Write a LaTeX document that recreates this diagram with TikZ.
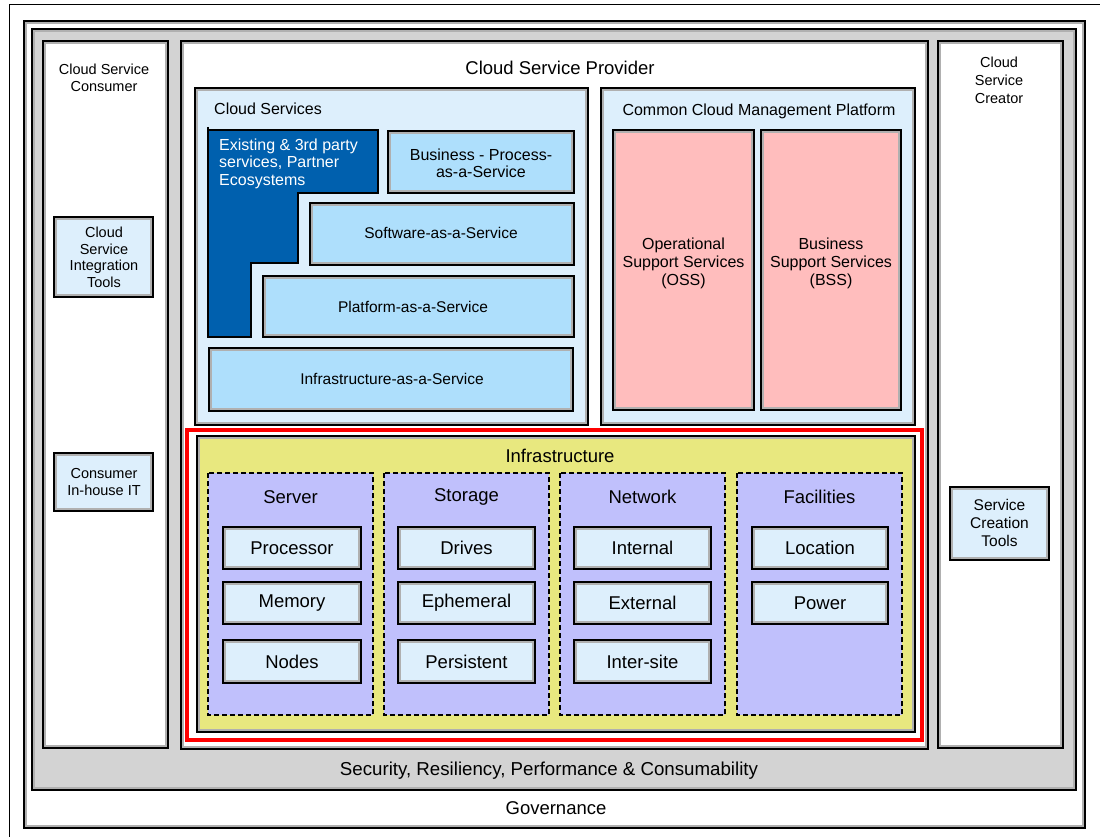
\documentclass[tikz,border=0pt]{standalone}
\usepackage{fontspec}
\setmainfont{Liberation Sans}
\definecolor{secgray}{HTML}{D3D3D3}
\definecolor{innerg}{HTML}{B0B0B0}
\definecolor{paleblue}{HTML}{DDEFFC}
\definecolor{svcblue}{HTML}{AEDFFC}
\definecolor{darkblue}{HTML}{0060AE}
\definecolor{pinkbox}{HTML}{FFBDBD}
\definecolor{yelbox}{HTML}{E8E87F}
\definecolor{lavbox}{HTML}{C0C0FC}
\newcommand{\fbx}[5]{%
  \fill[#1] (#2,#3) rectangle (#4,#5);
  \draw[innerg, line width=1.4pt] (#2+1.9,#3+1.9) rectangle (#4-1.9,#5-1.9);
  \draw[black, line width=1.8pt] (#2,#3) rectangle (#4,#5);}
\tikzset{
  lbl/.style={inner sep=0pt, align=center, text=black},
  fa/.style={font=\fontsize{14.5}{17}\selectfont},
  fb/.style={font=\fontsize{15.5}{18}\selectfont},
  fc/.style={font=\fontsize{16}{17.5}\selectfont},
  fd/.style={font=\fontsize{18.5}{20}\selectfont},
  colbox/.style={fill=lavbox, draw=black, line width=1.1pt, dash pattern=on 5pt off 3pt},
}
\begin{document}
\begin{tikzpicture}[x=1pt,y=-1pt]
\useasboundingbox (0,0) rectangle (1100,837);
% outer frame
\draw[line width=1pt] (9,5) rectangle (1130,860);
% governance and security
\fbx{white}{24}{21}{1085}{828}
\fbx{secgray}{32}{29}{1076}{790}
% three columns
\fbx{white}{43}{41}{168}{748}
\fbx{white}{181}{41}{928}{749}
\fbx{white}{938}{41}{1063}{748}
% consumer tools
\fbx{paleblue}{54}{217}{153}{297}
\fbx{paleblue}{54}{453}{153}{511}
% creator tools
\fbx{paleblue}{950}{487}{1049}{560}
% cloud services
\fbx{paleblue}{195}{88}{588}{425}
\fill[darkblue] (208,130) -- (378,130) -- (378,193) -- (298,193) -- (298,263) -- (251,263) -- (251,337) -- (208,337) -- cycle;
\draw[line width=1.3pt] (208,127) -- (208,337) -- (251,337) -- (251,263) -- (298,263) -- (298,193) -- (378,193) -- (378,130) -- (208,130);
\fbx{svcblue}{388}{131}{574}{193}
\fbx{svcblue}{310}{203}{574}{265}
\fbx{svcblue}{263}{276}{574}{337}
\fbx{svcblue}{209}{348}{573}{411}
% management platform
\fbx{paleblue}{601}{88}{915}{425}
\fbx{pinkbox}{613}{130}{754}{410}
\fbx{pinkbox}{761}{130}{901}{410}
% infrastructure
\draw[red, line width=3.5pt] (187,430) rectangle (922,740);
\fbx{yelbox}{197}{436}{915}{732}
\draw[colbox] (208,473) rectangle (373,715);
\draw[colbox] (384,473) rectangle (549,715);
\draw[colbox] (560,473) rectangle (725,715);
\draw[colbox] (737,473) rectangle (902,715);
\foreach \xa/\xb in {223/361,398/535,574/711}{
  \fbx{paleblue}{\xa}{527}{\xb}{569}
  \fbx{paleblue}{\xa}{582}{\xb}{624}
  \fbx{paleblue}{\xa}{640}{\xb}{683}
}
\fbx{paleblue}{752}{527}{888}{569}
\fbx{paleblue}{752}{582}{888}{624}
% texts
\node[lbl,fa] (tcons) at (104,77.5) {Cloud Service\\Consumer};
\node[lbl,fd] (tprov) at (560,68) {Cloud Service Provider};
\node[lbl,fa,font=\fontsize{14.5}{18}\selectfont] (tcrea) at (999,80) {Cloud\\Service\\Creator};
\node[lbl,fa,font=\fontsize{14.5}{16.5}\selectfont] (tinteg) at (104,257.5) {Cloud\\Service\\Integration\\Tools};
\node[lbl,fa] (tinh) at (104,482) {Consumer\\In-house IT};
\node[lbl,fb] (tsct) at (999.5,523) {Service\\Creation\\Tools};
\node[lbl,fc,anchor=west] (tcs) at (214,109) {Cloud Services};
\node[lbl,fc,anchor=west,align=left,text=white] (texist) at (219,163.5) {Existing \& 3rd party\\services, Partner\\Ecosystems};
\node[lbl,fc] (tbpaas) at (481,163.5) {Business - Process-\\as-a-Service};
\node[lbl,fb] (tsaas) at (441,233) {Software-as-a-Service};
\node[lbl,fb] (tpaas) at (413,307) {Platform-as-a-Service};
\node[lbl,fb] (tiaas) at (392,379) {Infrastructure-as-a-Service};
\node[lbl,fc] (tccmp) at (759,111) {Common Cloud Management Platform};
\node[lbl,fc,font=\fontsize{16}{18}\selectfont] (toss) at (683.5,263) {Operational\\Support Services\\(OSS)};
\node[lbl,fc,font=\fontsize{16}{18}\selectfont] (tbss) at (831,263) {Business\\Support Services\\(BSS)};
\node[lbl,fd] (tinfra) at (560,456) {Infrastructure};
\node[lbl,fd] (tserver) at (290.5,497) {Server};
\node[lbl,fd] (tstor) at (466.5,497) {Storage};
\node[lbl,fd] (tnet) at (642.5,497) {Network};
\node[lbl,fd] (tfac) at (819.5,497) {Facilities};
\node[lbl,fd] (tproc) at (292,548) {Processor};
\node[lbl,fd] (tmem) at (292,603) {Memory};
\node[lbl,fd] (tnodes) at (292,661.5) {Nodes};
\node[lbl,fd] (tdrv) at (466.5,548) {Drives};
\node[lbl,fd] (teph) at (466.5,603) {Ephemeral};
\node[lbl,fd] (tpers) at (466.5,661.5) {Persistent};
\node[lbl,fd] (tint) at (642.5,548) {Internal};
\node[lbl,fd] (text) at (642.5,603) {External};
\node[lbl,fd] (tsite) at (642.5,661.5) {Inter-site};
\node[lbl,fd] (tloc) at (820,548) {Location};
\node[lbl,fd] (tpow) at (820,603) {Power};
\node[lbl,fd,font=\fontsize{18.7}{20}\selectfont] (tsec) at (549,771) {Security, Resiliency, Performance \& Consumability};
\node[lbl,fd] (tgov) at (556,808) {Governance};
\end{tikzpicture}
\end{document}
